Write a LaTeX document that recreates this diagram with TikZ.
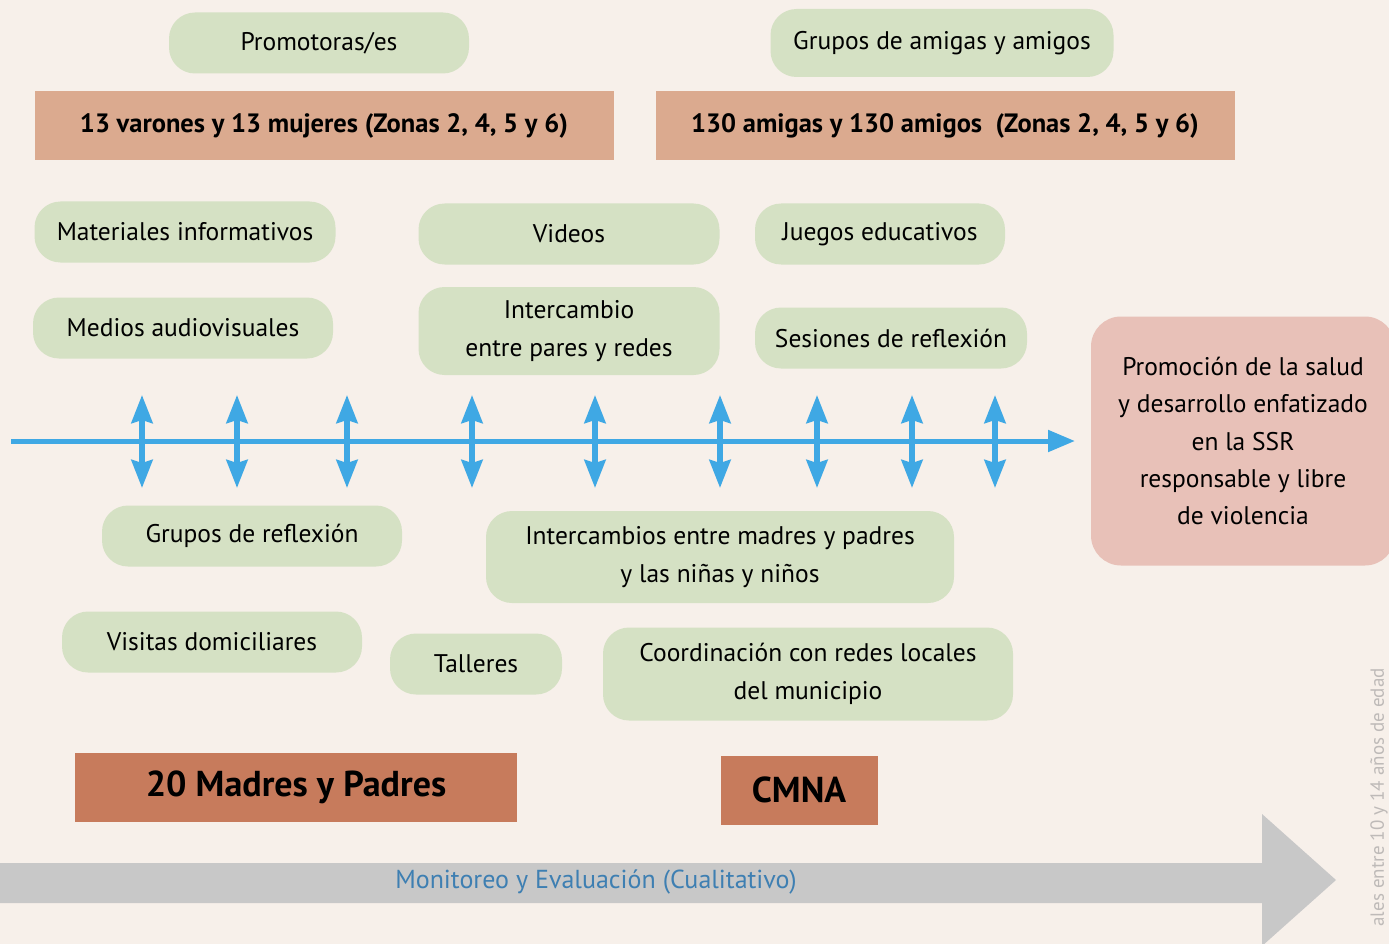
\documentclass[tikz,border=0pt]{standalone}
\usepackage{fontspec}
\setmainfont{PT Sans}
\usetikzlibrary{arrows.meta,positioning}

\definecolor{bgcream}{RGB}{247,240,234}
\definecolor{pillgreen}{RGB}{213,225,196}
\definecolor{salmonlight}{RGB}{219,170,143}
\definecolor{salmondark}{RGB}{199,123,92}
\definecolor{goalpink}{RGB}{232,193,184}
\definecolor{lineblue}{RGB}{63,168,228}
\definecolor{monblue}{RGB}{62,127,178}
\definecolor{mongray}{RGB}{200,200,200}
\definecolor{sidegray}{RGB}{190,186,184}

\begin{document}
\begin{tikzpicture}[x=1pt,y=-1pt,
    pill/.style={fill=pillgreen,rounded corners=26pt,minimum height=61pt,
      align=center,font=\fontsize{25.5}{38}\selectfont,inner sep=0pt},
    groupbar/.style={fill=salmonlight,minimum width=579pt,minimum height=69pt,
      font=\fontsize{26.5}{30}\selectfont\bfseries},
    parentbar/.style={fill=salmondark,minimum height=69pt,
      font=\fontsize{36}{42}\selectfont\bfseries},
    biarrow/.style={lineblue,line width=5.5pt,
      {Stealth[length=28pt,width=21pt,inset=3pt]}-{Stealth[length=28pt,width=21pt,inset=3pt]}}]
    \clip (0,0) rectangle (1389,944);
    \fill[bgcream] (0,0) rectangle (1389,944);

    % groups on top
    \node[pill,minimum width=300pt] (promotoras) at (319,43) {Promotoras/es};
    \node[pill,minimum width=343pt,minimum height=68pt] (amigos) at (942,43) {Grupos de amigas y amigos};
    \node[groupbar] (varones) at (324,126) {13 varones y 13 mujeres (Zonas 2, 4, 5 y 6)};
    \node[groupbar] (amigas) at (945,126) {130 amigas y 130 amigos\ \ (Zonas 2, 4, 5 y 6)};

    % activities above the line
    \node[pill,minimum width=301pt] (materiales) at (185,232) {Materiales informativos};
    \node[pill,minimum width=301pt] (videos) at (569,234) {Videos};
    \node[pill,minimum width=250pt] (juegos) at (880,234) {Juegos educativos};
    \node[pill,minimum width=300pt] (medios) at (183,328) {Medios audiovisuales};
    \node[pill,minimum width=301pt,minimum height=88pt] (intercambio) at (569,331) {Intercambio\\entre pares y redes};
    \node[pill,minimum width=272pt] (sesiones) at (891,338) {Sesiones de reflexión};

    % result
    \node[fill=goalpink,rounded corners=30pt,minimum width=304pt,minimum height=249pt,
      align=center,font=\fontsize{25.5}{37.3}\selectfont] (promocion) at (1243,441)
      {Promoción de la salud\\y desarrollo enfatizado\\en la SSR\\responsable y libre\\de violencia};

    % time line
    \coordinate (inicio) at (11,441);
    \coordinate (fin) at (1075,441);
    \draw[lineblue,line width=5pt,-{Triangle[length=27pt,width=21pt]}] (inicio) -- (fin);
    \foreach \x in {142,237,347,472,595,720,817,912,995}
      \draw[biarrow] (\x,395) -- (\x,488);

    % activities below the line
    \node[pill,minimum width=300pt] (grupos) at (252,536) {Grupos de reflexión};
    \node[pill,minimum width=468pt,minimum height=92pt] (madres) at (720,557) {Intercambios entre madres y padres\\y las niñas y niños};
    \node[pill,minimum width=300pt] (visitas) at (212,642) {Visitas domiciliares};
    \node[pill,minimum width=172pt] (talleres) at (476,664) {Talleres};
    \node[pill,minimum width=410pt,minimum height=93pt] (coordinacion) at (808,674) {Coordinación con redes locales\\del municipio};

    % groups at the bottom
    \node[parentbar,minimum width=442pt] (padres) at (296,787) {20 Madres y Padres};
    \node[parentbar,minimum width=157pt] (cmna) at (799,790) {CMNA};

    % monitoring
    \fill[mongray] (0,863) -- (1262,863) -- (1262,814) -- (1336,880)
      -- (1262,946) -- (1262,903) -- (0,903) -- cycle;
    \node[text=monblue,font=\fontsize{26}{30}\selectfont] (monitoreo) at (596,882)
      {Monitoreo y Evaluación (Cualitativo)};

    \node[rotate=90,anchor=east,text=sidegray,font=\fontsize{19}{22}\selectfont,inner sep=0pt]
      (lateral) at (1379,668) {ales entre 10 y 14 años de edad};
\end{tikzpicture}
\end{document}
